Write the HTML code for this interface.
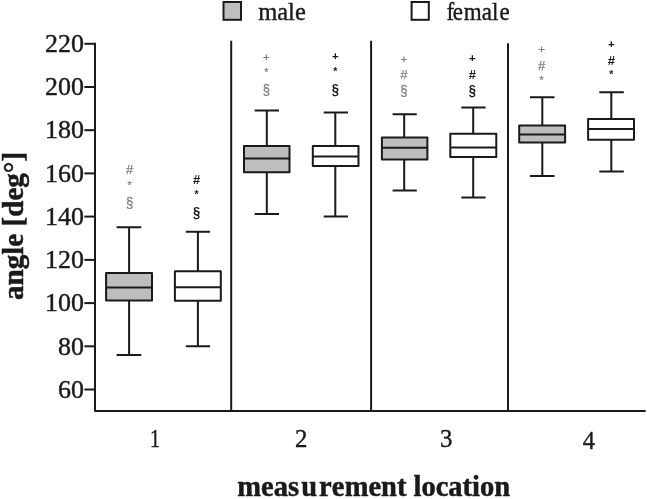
<!DOCTYPE html>
<html lang="en"><head><meta charset="utf-8"><title>angle by measurement location</title>
<style>html,body{margin:0;padding:0;background:#fff;}body{width:647px;height:499px;overflow:hidden;}svg{display:block;}.s{font-family:"Liberation Serif",serif;fill:#1a1a1a;stroke:#1a1a1a;stroke-width:0.4px;}.b{font-family:"Liberation Serif",serif;font-weight:bold;fill:#1a1a1a;stroke:#1a1a1a;stroke-width:0.5px;}.y{font-family:"Liberation Sans",sans-serif;text-anchor:middle;}</style></head><body>
<svg width="647" height="499" viewBox="0 0 647 499">
<rect width="647" height="499" fill="#ffffff"/>
<g stroke="#1a1a1a" stroke-width="2" fill="none" stroke-linecap="butt" stroke-linejoin="round">
<path d="M95.0 42.8 V410.9 H645.6"/>
<path d="M84.4 389.5 H95.0"/>
<path d="M84.4 346.3 H95.0"/>
<path d="M84.4 303.1 H95.0"/>
<path d="M84.4 259.9 H95.0"/>
<path d="M84.4 216.6 H95.0"/>
<path d="M84.4 173.4 H95.0"/>
<path d="M84.4 130.2 H95.0"/>
<path d="M84.4 87.0 H95.0"/>
<path d="M84.4 43.8 H95.0"/>
<path d="M231.2 40.8 V410.9"/>
<path d="M371.1 40.8 V410.9"/>
<path d="M508.0 43.3 V410.9"/>
</g>
<text class="s" transform="translate(84 397.7) scale(1.015 1)" font-size="25.6" text-anchor="end">60</text>
<text class="s" transform="translate(84 354.5) scale(1.015 1)" font-size="25.6" text-anchor="end">80</text>
<text class="s" transform="translate(84 311.3) scale(1.015 1)" font-size="25.6" text-anchor="end">100</text>
<text class="s" transform="translate(84 268.1) scale(1.015 1)" font-size="25.6" text-anchor="end">120</text>
<text class="s" transform="translate(84 224.8) scale(1.015 1)" font-size="25.6" text-anchor="end">140</text>
<text class="s" transform="translate(84 181.6) scale(1.015 1)" font-size="25.6" text-anchor="end">160</text>
<text class="s" transform="translate(84 138.4) scale(1.015 1)" font-size="25.6" text-anchor="end">180</text>
<text class="s" transform="translate(84 95.2) scale(1.015 1)" font-size="25.6" text-anchor="end">200</text>
<text class="s" transform="translate(84 52.0) scale(1.015 1)" font-size="25.6" text-anchor="end">220</text>
<g stroke="#1a1a1a" stroke-width="2" stroke-linecap="butt" stroke-linejoin="round">
<path d="M129.1 227.2 V354.9 M116.6 227.2 H141.3 M116.6 354.9 H141.3" fill="none"/>
<rect x="106.1" y="272.9" width="45.9" height="27.7" fill="#bebebe"/>
<path d="M106.1 287.4 H152.0" fill="none"/>
<path d="M197.9 231.8 V346.3 M185.8 231.8 H210.1 M185.8 346.3 H210.1" fill="none"/>
<rect x="174.9" y="271.2" width="45.9" height="29.6" fill="#ffffff"/>
<path d="M174.9 287.2 H220.8" fill="none"/>
<path d="M266.8 110.5 V214.0 M254.7 110.5 H279.0 M254.7 214.0 H279.0" fill="none"/>
<rect x="244.0" y="145.9" width="45.5" height="26.3" fill="#bebebe"/>
<path d="M244.0 158.6 H289.5" fill="none"/>
<path d="M335.3 112.5 V216.6 M323.7 112.5 H348.0 M323.7 216.6 H348.0" fill="none"/>
<rect x="312.8" y="146.1" width="45.7" height="19.9" fill="#ffffff"/>
<path d="M312.8 156.5 H358.5" fill="none"/>
<path d="M404.2 114.2 V190.5 M392.6 114.2 H416.8 M392.6 190.5 H416.8" fill="none"/>
<rect x="381.9" y="137.5" width="45.5" height="22.0" fill="#bebebe"/>
<path d="M381.9 147.7 H427.4" fill="none"/>
<path d="M473.2 107.4 V197.6 M461.3 107.4 H485.6 M461.3 197.6 H485.6" fill="none"/>
<rect x="450.3" y="133.8" width="46.0" height="23.2" fill="#ffffff"/>
<path d="M450.3 147.6 H496.3" fill="none"/>
<path d="M542.3 97.3 V176.1 M530.0 97.3 H554.5 M530.0 176.1 H554.5" fill="none"/>
<rect x="519.2" y="125.5" width="45.9" height="17.1" fill="#bebebe"/>
<path d="M519.2 134.4 H565.1" fill="none"/>
<path d="M611.3 92.3 V171.6 M599.3 92.3 H623.8 M599.3 171.6 H623.8" fill="none"/>
<rect x="588.1" y="119.1" width="45.9" height="20.7" fill="#ffffff"/>
<path d="M588.1 129.1 H634.0" fill="none"/>
</g>
<text class="y" transform="translate(129.6 169.8) scale(1 1.0)" y="4.48" font-size="13.0" fill="#808080" stroke="#808080" stroke-width="0.25">#</text>
<text class="y" transform="translate(129.6 183.5) scale(1 1.0)" y="5.46" font-size="10.5" fill="#808080" stroke="#808080" stroke-width="0.25">*</text>
<text class="y" transform="translate(129.6 202.7) scale(1 1.16)" y="4.29" font-size="13.0" fill="#808080" stroke="#808080" stroke-width="0.25">§</text>
<text class="y" transform="translate(196.6 179.3) scale(1 1.0)" y="4.55" font-size="13.0" font-weight="bold" fill="#1a1a1a">#</text>
<text class="y" transform="translate(196.6 193.0) scale(1 1.0)" y="5.36" font-size="10.5" font-weight="bold" fill="#1a1a1a">*</text>
<text class="y" transform="translate(196.6 212.5) scale(1 1.16)" y="3.96" font-size="13.0" font-weight="bold" fill="#1a1a1a">§</text>
<text class="y" transform="translate(266.4 57.0) scale(1 1.0)" y="3.91" font-size="11.5" fill="#808080" stroke="#808080" stroke-width="0.25">+</text>
<text class="y" transform="translate(266.4 70.4) scale(1 1.0)" y="5.46" font-size="10.5" fill="#808080" stroke="#808080" stroke-width="0.25">*</text>
<text class="y" transform="translate(266.4 90.0) scale(1 1.16)" y="4.29" font-size="13.0" fill="#808080" stroke="#808080" stroke-width="0.25">§</text>
<text class="y" transform="translate(335.4 56.1) scale(1 1.0)" y="3.91" font-size="11.5" font-weight="bold" fill="#1a1a1a">+</text>
<text class="y" transform="translate(335.4 69.3) scale(1 1.0)" y="5.36" font-size="10.5" font-weight="bold" fill="#1a1a1a">*</text>
<text class="y" transform="translate(335.4 89.3) scale(1 1.16)" y="3.96" font-size="13.0" font-weight="bold" fill="#1a1a1a">§</text>
<text class="y" transform="translate(403.8 58.7) scale(1 1.0)" y="3.91" font-size="11.5" fill="#808080" stroke="#808080" stroke-width="0.25">+</text>
<text class="y" transform="translate(403.8 74.8) scale(1 1.0)" y="4.48" font-size="13.0" fill="#808080" stroke="#808080" stroke-width="0.25">#</text>
<text class="y" transform="translate(403.8 91.0) scale(1 1.16)" y="4.29" font-size="13.0" fill="#808080" stroke="#808080" stroke-width="0.25">§</text>
<text class="y" transform="translate(472.3 58.0) scale(1 1.0)" y="3.91" font-size="11.5" font-weight="bold" fill="#1a1a1a">+</text>
<text class="y" transform="translate(472.3 74.1) scale(1 1.0)" y="4.55" font-size="13.0" font-weight="bold" fill="#1a1a1a">#</text>
<text class="y" transform="translate(472.3 90.3) scale(1 1.16)" y="3.96" font-size="13.0" font-weight="bold" fill="#1a1a1a">§</text>
<text class="y" transform="translate(541.6 49.3) scale(1 1.0)" y="3.91" font-size="11.5" fill="#808080" stroke="#808080" stroke-width="0.25">+</text>
<text class="y" transform="translate(541.6 65.4) scale(1 1.0)" y="4.48" font-size="13.0" fill="#808080" stroke="#808080" stroke-width="0.25">#</text>
<text class="y" transform="translate(541.6 78.2) scale(1 1.0)" y="5.46" font-size="10.5" fill="#808080" stroke="#808080" stroke-width="0.25">*</text>
<text class="y" transform="translate(611.4 43.6) scale(1 1.0)" y="3.91" font-size="11.5" font-weight="bold" fill="#1a1a1a">+</text>
<text class="y" transform="translate(611.4 60.2) scale(1 1.0)" y="4.55" font-size="13.0" font-weight="bold" fill="#1a1a1a">#</text>
<text class="y" transform="translate(611.4 72.7) scale(1 1.0)" y="5.36" font-size="10.5" font-weight="bold" fill="#1a1a1a">*</text>
<rect x="223.5" y="2" width="17.5" height="17.8" fill="#bebebe" stroke="#1a1a1a" stroke-width="2"/>
<rect x="411.6" y="2" width="17.2" height="17.8" fill="#ffffff" stroke="#1a1a1a" stroke-width="2"/>
<text class="s" x="258.2" y="20.4" font-size="25.6" textLength="47.6" lengthAdjust="spacingAndGlyphs">male</text>
<text class="s" transform="translate(446.6 20.4) scale(0.9 1)" font-size="25.6" dx="0 -1.6 0.8 0 0 1.2">female</text>
<text class="s" transform="translate(155.0 447.3) scale(0.78 1)" font-size="25.6" text-anchor="middle" stroke-width="0.6">1</text>
<text class="s" transform="translate(301.3 447.0) scale(0.97 1)" font-size="25.6" text-anchor="middle" stroke-width="0.6">2</text>
<text class="s" transform="translate(446.1 447.3) scale(0.97 1)" font-size="25.6" text-anchor="middle" stroke-width="0.6">3</text>
<text class="s" transform="translate(588.9 448.8) scale(0.95 1)" font-size="25.6" text-anchor="middle" stroke-width="0.6">4</text>
<text class="b" transform="translate(237.3 496.1) scale(0.963 1)" font-size="29.6" dx="0 0 0 0 2.4 1.9 0.5 0.4">measurement location</text>
<text class="b" x="0" y="0" dy="0 0 0 0 0 0 0 0 0 0 1.3 -1.3" font-size="29.6" textLength="148.2" lengthAdjust="spacingAndGlyphs" transform="translate(22.5 300.0) rotate(-90)">angle [deg°]</text>
</svg>
</body></html>
